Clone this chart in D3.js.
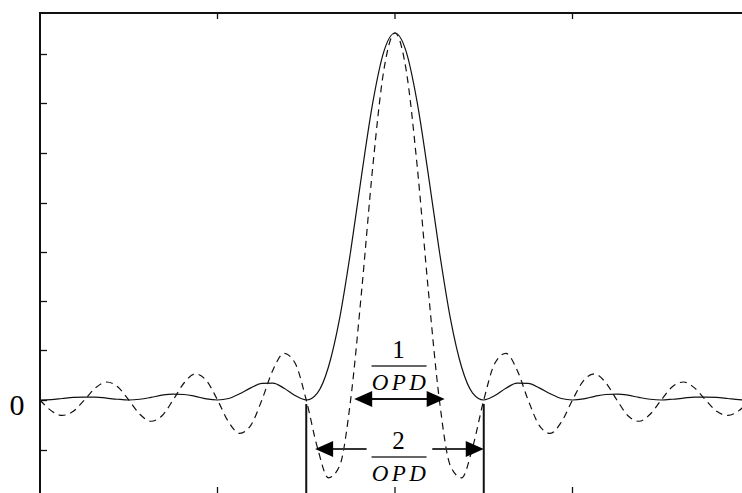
<!DOCTYPE html>
<head>
  <meta charset="utf-8">
  <script src="https://d3js.org/d3.v7.min.js"></script>
  <style>
    body {
      margin: 0;
      background: #fff;
    }
    text {
      font-family: "Liberation Serif", "Times New Roman", serif;
      fill: #000;
    }
  </style>
</head>

<body>
  <div id="chart"></div>

  <script>
    // sample positions, in units of 1/OPD
    var xs = [-4, -3.875, -3.75, -3.625, -3.5, -3.375, -3.25, -3.125, -3, -2.875, -2.75, -2.625, -2.5, -2.375, -2.25, -2.125,
              -2, -1.875, -1.75, -1.625, -1.5, -1.375, -1.25, -1.125, -1, -0.875, -0.75, -0.625, -0.5, -0.375, -0.25, -0.125,
              0, 0.125, 0.25, 0.375, 0.5, 0.625, 0.75, 0.875, 1, 1.125, 1.25, 1.375, 1.5, 1.625, 1.75, 1.875,
              2, 2.125, 2.25, 2.375, 2.5, 2.625, 2.75, 2.875, 3, 3.125, 3.25, 3.375, 3.5, 3.625, 3.75, 3.875, 4];

    // solid line (triangular apodization)
    var solid = [0, 0.001, 0.004, 0.007, 0.008, 0.008, 0.005, 0.002, 0, 0.002, 0.007, 0.013, 0.016, 0.015, 0.010, 0.003,
                 0, 0.004, 0.017, 0.033, 0.045, 0.046, 0.032, 0.012, 0, 0.019, 0.090, 0.221, 0.405, 0.615, 0.811, 0.950,
                 1, 0.950, 0.811, 0.615, 0.405, 0.221, 0.090, 0.019, 0, 0.012, 0.032, 0.046, 0.045, 0.033, 0.017, 0.004,
                 0, 0.003, 0.010, 0.015, 0.016, 0.013, 0.007, 0.002, 0, 0.002, 0.005, 0.008, 0.008, 0.007, 0.004, 0.001, 0];

    // dashed line (boxcar)
    var dashed = [0, -0.029, -0.042, -0.031, 0, 0.033, 0.049, 0.036, 0, -0.039, -0.058, -0.043, 0, 0.047, 0.071, 0.053,
                  0, -0.060, -0.091, -0.069, 0, 0.082, 0.127, 0.100, 0, -0.129, -0.212, -0.180, 0, 0.300, 0.637, 0.900,
                  1, 0.900, 0.637, 0.300, 0, -0.180, -0.212, -0.129, 0, 0.100, 0.127, 0.082, 0, -0.069, -0.091, -0.060,
                  0, 0.053, 0.071, 0.047, 0, -0.043, -0.058, -0.039, 0, 0.036, 0.049, 0.033, 0, -0.031, -0.042, -0.029, 0];

    var xTicks = [-2, 0, 2];
    var yTicks = [-0.135, 0, 0.135, 0.269, 0.404, 0.538, 0.673, 0.808, 0.942];
    var yLabels = ["0"];

    // annotation positions (x in 1/OPD units)
    var markerX = [-1, 1];
    var arrowOne = [-0.46, 0.56];
    var arrowTwo = [-0.9, 1.0];
    var arrowTwoGap = [-0.32, 0.42];
    var fracCenter = 0.04;

    var width = 742,
        height = 493;

    var x = d3.scaleLinear().domain([-4, 4]).range([40, 750]);
    var y = d3.scaleLinear().domain([-0.2589, 1.0545]).range([495, 13]);

    var svg = d3.select("#chart").append("svg")
      .attr("width", width)
      .attr("height", height);

    // frame
    svg.append("line")
      .attr("x1", 40).attr("x2", 750).attr("y1", 13).attr("y2", 13)
      .attr("stroke", "#111").attr("stroke-width", 2);
    svg.append("line")
      .attr("x1", 40).attr("x2", 40).attr("y1", 12).attr("y2", 495)
      .attr("stroke", "#111").attr("stroke-width", 2);

    // ticks pointing inward
    svg.selectAll("line.ytick")
        .data(yTicks)
      .enter().append("line")
        .attr("class", "ytick")
        .attr("x1", 40).attr("x2", 47)
        .attr("y1", function(d) { return Math.round(y(d)) + 0.5; })
        .attr("y2", function(d) { return Math.round(y(d)) + 0.5; })
        .attr("stroke", "#111").attr("stroke-width", 1.3);

    svg.selectAll("line.xtick-top")
        .data(xTicks)
      .enter().append("line")
        .attr("class", "xtick-top")
        .attr("x1", function(d) { return x(d); })
        .attr("x2", function(d) { return x(d); })
        .attr("y1", 13).attr("y2", 19)
        .attr("stroke", "#111").attr("stroke-width", 1.3);

    svg.selectAll("line.xtick-bottom")
        .data(xTicks)
      .enter().append("line")
        .attr("class", "xtick-bottom")
        .attr("x1", function(d) { return x(d); })
        .attr("x2", function(d) { return x(d); })
        .attr("y1", 487).attr("y2", 495)
        .attr("stroke", "#111").attr("stroke-width", 1.3);

    svg.selectAll("text.ylabel")
        .data(yLabels)
      .enter().append("text")
        .attr("class", "ylabel")
        .attr("x", 17)
        .attr("y", y(0) + 15)
        .attr("text-anchor", "middle")
        .style("font-size", "30px")
        .text(function(d) { return d; });

    // curves
    var pts = function(vals) {
      return vals.map(function(v, i) { return [xs[i], v]; });
    };

    var line = d3.line()
      .x(function(d) { return x(d[0]); })
      .y(function(d) { return y(d[1]); })
      .curve(d3.curveMonotoneX);

    svg.append("path")
      .datum(pts(dashed))
      .attr("d", line)
      .attr("fill", "none")
      .attr("stroke", "#111")
      .attr("stroke-width", 1.2)
      .attr("stroke-dasharray", "7,5");

    svg.append("path")
      .datum(pts(solid))
      .attr("d", line)
      .attr("fill", "none")
      .attr("stroke", "#111")
      .attr("stroke-width", 1.2);

    // vertical markers at the first zeros
    svg.selectAll("line.marker")
        .data(markerX)
      .enter().append("line")
        .attr("class", "marker")
        .attr("x1", function(d) { return x(d); })
        .attr("x2", function(d) { return x(d); })
        .attr("y1", y(0) + 4).attr("y2", 495)
        .attr("stroke", "#111").attr("stroke-width", 2);

    function head(px, py, dir) {
      // filled arrow head, dir = -1 points left, 1 points right
      var len = 18, half = 8;
      return "M" + px + "," + py +
             "L" + (px - dir * len) + "," + (py - half) +
             "L" + (px - dir * len) + "," + (py + half) + "Z";
    }

    // 1/OPD arrow
    var a1y = y(0) - 1;
    svg.append("line")
      .attr("x1", x(arrowOne[0]) + 10).attr("x2", x(arrowOne[1]) - 10)
      .attr("y1", a1y).attr("y2", a1y)
      .attr("stroke", "#111").attr("stroke-width", 2);
    svg.append("path").attr("d", head(x(arrowOne[0]), a1y, -1)).attr("fill", "#000");
    svg.append("path").attr("d", head(x(arrowOne[1]), a1y, 1)).attr("fill", "#000");

    // 2/OPD arrow, broken around the numerator
    var a2y = 449;
    svg.append("line")
      .attr("x1", x(arrowTwo[0]) + 10).attr("x2", x(arrowTwoGap[0]))
      .attr("y1", a2y).attr("y2", a2y)
      .attr("stroke", "#333").attr("stroke-width", 2);
    svg.append("line")
      .attr("x1", x(arrowTwoGap[1])).attr("x2", x(arrowTwo[1]) - 10)
      .attr("y1", a2y).attr("y2", a2y)
      .attr("stroke", "#333").attr("stroke-width", 2);
    svg.append("path").attr("d", head(x(arrowTwo[0]), a2y, -1)).attr("fill", "#000");
    svg.append("path").attr("d", head(x(arrowTwo[1]), a2y, 1)).attr("fill", "#000");

    // fractions
    function fraction(num, top) {
      var cx = x(fracCenter);
      svg.append("text")
        .attr("x", cx).attr("y", top)
        .attr("text-anchor", "middle")
        .style("font-size", "25px")
        .text(num);
      svg.append("line")
        .attr("x1", cx - 27).attr("x2", cx + 28)
        .attr("y1", top + 8).attr("y2", top + 8)
        .attr("stroke", "#333").attr("stroke-width", 1.5);
      svg.append("text")
        .attr("x", cx + 2).attr("y", top + 32)
        .attr("text-anchor", "middle")
        .style("font-size", "23px")
        .style("font-style", "italic")
        .style("letter-spacing", "3.5px")
        .text("OPD");
    }

    fraction("1", 358);
    fraction("2", 449);
  </script>
</body>
